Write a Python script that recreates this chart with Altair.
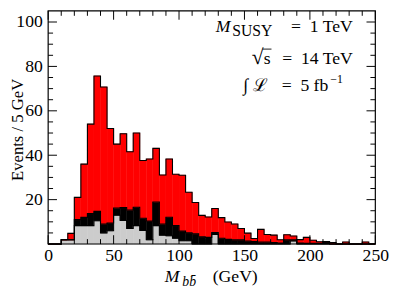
import altair as alt
import pandas as pd

# ---- data (events per 5 GeV bin, 0..250 GeV) ----
bin_width = 5
bin_low = list(range(0, 250, bin_width))
gray_counts = [0, 0, 1.9, 1.9, 8.3, 8.3, 8.3, 10.5, 5.0, 6.0,
               13.0, 10.6, 7.0, 8.3, 6.1, 1.9, 8.3, 4.0, 3.7, 2.6,
               1.5, 1.5, 0, 0, 0, 4.3, 0, 0, 0, 0,
               0, 0, 0, 0, 0, 0, 0, 1.4, 0, 0,
               0, 0, 0, 0, 0, 0, 0, 0, 0, 0]
black_counts = [0, 0, 0, 0, 2.7, 3.7, 5.4, 4.2, 4.0, 3.5,
                3.2, 5.8, 8.3, 8.3, 5.5, 8.5, 10.6, 5.0, 8.4, 5.7,
                4.4, 3.6, 4.6, 3.3, 3.0, 0.9, 2.6, 2.1, 1.9, 1.9,
                1.3, 1.1, 0.9, 0.9, 0.7, 0.5, 1.9, 0.5, 0.5, 0.3,
                0.3, 0.3, 1.1, 0, 0, 0, 0, 0, 0, 0]
red_counts = [0, 0, 0, 2.9, 10.0, 24.0, 40.3, 61.0, 61.7, 42.5,
              28.8, 33.3, 26.3, 33.4, 26.0, 27.9, 24.2, 22.1, 26.2, 23.1,
              25.1, 18.2, 14.1, 9.6, 9.2, 10.8, 9.3, 7.8, 7.1, 5.1,
              3.6, 1.4, 5.7, 3.4, 3.3, 1.4, 2.3, 1.7, 1.5, 2.7,
              1.4, 0.7, 0, 0.7, 0, 0.9, 0, 0, 0.9, 0]

x_labels = [0, 50, 100, 150, 200, 250]
x_minor = [v for v in range(10, 250, 10) if v % 50]
y_labels = [20, 40, 60, 80, 100]
y_minor = [v for v in range(5, 105, 5) if v % 20]

FONT = "Liberation Serif"
W, H = 334, 238

# ---- tables built from the lists ----
rows = []
for i, lo in enumerate(bin_low):
    base = 0.0
    for comp, vals in (("gray", gray_counts), ("black", black_counts), ("red", red_counts)):
        v = vals[i]
        rows.append({"lo": lo, "hi": lo + bin_width, "y0": base, "y1": base + v, "comp": comp})
        base += v
bars_df = pd.DataFrame(rows)

line_rows = []
for i, lo in enumerate(bin_low + [250]):
    j = min(i, len(bin_low) - 1)
    g = gray_counts[j]
    b = g + black_counts[j]
    t = b + red_counts[j]
    for lvl, val in (("g", g), ("b", b), ("t", t)):
        line_rows.append({"x": lo, "level": lvl, "val": val})
lines_df = pd.DataFrame(line_rows)

xscale = alt.Scale(domain=[0, 250], nice=False, zero=False)
yscale = alt.Scale(domain=[0, 105], nice=False, zero=False)
cscale = alt.Scale(domain=["gray", "black", "red"], range=["#cccccc", "#000000", "#ff0000"])

bars = alt.Chart(bars_df).mark_bar(strokeWidth=0.5).encode(
    x=alt.X("lo:Q", scale=xscale,
            axis=alt.Axis(values=x_labels, ticks=False, domain=False, grid=False,
                          labelFlush=False, labelPadding=3, labelFont=FONT,
                          labelFontSize=18, labelColor="black", title=None,
                          format="d")),
    x2="hi:Q",
    y=alt.Y("y0:Q", scale=yscale,
            axis=alt.Axis(values=y_labels, ticks=False, domain=False, grid=False,
                          labelPadding=6, labelFont=FONT, labelFontSize=18,
                          labelColor="black", title="Events / 5 GeV",
                          titleFont=FONT, titleFontSize=17, titleFontWeight="normal",
                          titleColor="black", titleX=-26, titleY=H / 2 + 2,
                          titleAngle=270, titleBaseline="alphabetic",
                          titleAlign="center", format="d")),
    y2="y1:Q",
    color=alt.Color("comp:N", scale=cscale, legend=None),
    stroke=alt.Stroke("comp:N", scale=cscale, legend=None),
)

outlines = alt.Chart(lines_df).mark_line(interpolate="step-after", color="black",
                                         strokeWidth=1.1).encode(
    x=alt.X("x:Q", scale=xscale, axis=None),
    y=alt.Y("val:Q", scale=yscale, axis=None),
    detail="level:N",
)


def xticks(vals, length, top):
    y0, y1 = (0, length) if top else (H - length, H)
    return alt.Chart(pd.DataFrame({"v": vals})).mark_rule(color="black", strokeWidth=1).encode(
        x=alt.X("v:Q", scale=xscale, axis=None), y=alt.value(y0), y2=alt.value(y1))


def yticks(vals, length, right):
    x0, x1 = (W - length, W) if right else (0, length)
    return alt.Chart(pd.DataFrame({"v": vals})).mark_rule(color="black", strokeWidth=1).encode(
        y=alt.Y("v:Q", scale=yscale, axis=None), x=alt.value(x0), x2=alt.value(x1))


ticks = [
    xticks(x_labels, 9, False), xticks(x_minor, 5, False),
    xticks(x_labels, 9, True), xticks(x_minor, 5, True),
    yticks(y_labels, 9, False), yticks(y_minor, 5, False),
    yticks(y_labels, 9, True), yticks(y_minor, 5, True),
]

frame = alt.Chart(pd.DataFrame({"a": [0]})).mark_rect(filled=False, stroke="black",
                                                      strokeWidth=1.2).encode(
    x=alt.value(0), x2=alt.value(W), y=alt.value(0), y2=alt.value(H))


def txt(s, x, y, size=18, align="left", style="normal"):
    return alt.Chart(pd.DataFrame({"t": [s]})).mark_text(
        align=align, baseline="alphabetic", font=FONT, fontSize=size,
        fontStyle=style, color="black").encode(
        text="t:N", x=alt.value(x), y=alt.value(y))


EN = "\u2002"
vinculum = alt.Chart(pd.DataFrame({"a": [0]})).mark_rule(color="black", strokeWidth=0.9).encode(
    x=alt.value(219), x2=alt.value(228), y=alt.value(39))

texts = [
    # M_SUSY = 1 TeV
    txt("M", 171, 22, style="italic"),
    txt("SUSY", 188, 26, size=16),
    txt(EN + "=" + EN + "1 TeV", 311, 22, align="right"),
    # sqrt(s) = 14 TeV
    txt("\u221a", 220, 54, size=22, align="right"),
    txt("s", 220, 54),
    txt(EN + "=" + EN + "14 TeV", 311, 54, align="right"),
    # int L = 5 fb^-1
    txt("\u222b \u2112", 224, 82, align="right"),
    txt(EN + "=" + EN + "5 fb", 286, 82, align="right"),
    txt("\u22121", 288, 74, size=12),
    # x-axis title
    txt("M", 119, 277, style="italic"),
    txt("bb\u0304", 137, 281, size=14, style="italic"),
    txt("(GeV)", 168, 277),
]

chart = alt.layer(bars, outlines, *ticks, frame, vinculum, *texts).resolve_axis(
    x="independent", y="independent"
).properties(
    width=W, height=H,
    padding={"left": 41, "top": 0, "right": 16, "bottom": 46},
    autosize=alt.AutoSizeParams(type="none"),
).configure_view(stroke=None)

chart.save("out.html", embed_options={"renderer": "svg", "actions": False})
